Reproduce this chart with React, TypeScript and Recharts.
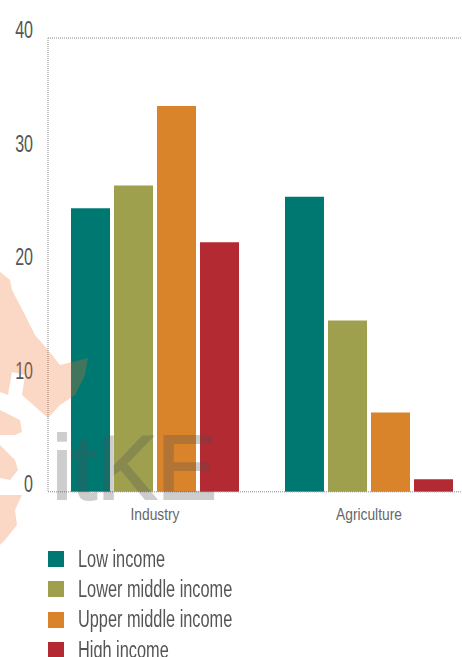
import { BarChart, Bar, XAxis, YAxis, ReferenceLine, Legend } from "recharts";

const categories = ["Industry", "Agriculture"];
const lowIncome = [25, 26];
const lowerMiddleIncome = [27, 15.1];
const upperMiddleIncome = [34, 7];
const highIncome = [22, 1.1];
const yTicks = [0, 10, 20, 30, 40];

const SERIES = [
  { key: "low", name: "Low income", color: "#007872", values: lowIncome },
  { key: "lowerMiddle", name: "Lower middle income", color: "#9ea04e", values: lowerMiddleIncome },
  { key: "upperMiddle", name: "Upper middle income", color: "#d9832a", values: upperMiddleIncome },
  { key: "high", name: "High income", color: "#b42a32", values: highIncome },
];

const chartData = categories.map((name, i) => {
  const row: Record<string, string | number> = { name };
  SERIES.forEach((s) => {
    row[s.key] = s.values[i];
  });
  return row;
});

const FONT = '"Liberation Sans", sans-serif';
const DOTTED = "#8a8a8a";

// no condensed face is installed, so the regular one is squeezed horizontally
const YTick = ({ x, y, payload }: any) => (
  <text
    transform={`translate(${x},${y - 6}) scale(0.67,1)`}
    textAnchor="end"
    dominantBaseline="middle"
    fontFamily={FONT}
    fontSize={24}
    fill="#555"
  >
    {payload.value}
  </text>
);

const XTick = ({ x, y, payload }: any) => (
  <text
    transform={`translate(${x},${y + 16}) scale(0.81,1)`}
    textAnchor="middle"
    dominantBaseline="middle"
    fontFamily={FONT}
    fontSize={17}
    fill="#666"
  >
    {payload.value}
  </text>
);

const LegendList = () => (
  <div>
    {SERIES.map((s) => (
      <div key={s.key} style={{ display: "flex", alignItems: "center", height: 30.3 }}>
        <span style={{ width: 16, height: 16, background: s.color, marginRight: 14, flex: "none" }} />
        <span
          style={{
            fontFamily: FONT,
            fontSize: 23,
            color: "#555",
            whiteSpace: "nowrap",
            display: "inline-block",
            transform: "scaleX(0.71)",
            transformOrigin: "left center",
          }}
        >
          {s.name}
        </span>
      </div>
    ))}
  </div>
);

export default function App() {
  return (
    <div style={{ position: "absolute", left: 0, top: 0, width: 462, height: 657, overflow: "hidden", background: "#fff" }}>
      <BarChart
        width={480}
        height={700}
        data={chartData}
        margin={{ top: 38, right: 4, bottom: 57, left: 0 }}
        barSize={39}
        barGap={4}
        style={{ position: "absolute", left: 0, top: 0 }}
      >
        <XAxis
          dataKey="name"
          tick={<XTick />}
          tickLine={false}
          axisLine={{ stroke: DOTTED, strokeDasharray: "1 1" }}
          height={30}
        />
        <YAxis
          domain={[0, 40]}
          ticks={yTicks}
          width={48}
          tick={<YTick />}
          tickLine={false}
          tickMargin={15}
          tickSize={0}
          axisLine={{ stroke: DOTTED, strokeDasharray: "1 1" }}
        />
        <ReferenceLine y={40} stroke={DOTTED} strokeDasharray="1 1" />
        {SERIES.map((s) => (
          <Bar key={s.key} dataKey={s.key} name={s.name} fill={s.color} isAnimationActive={false} />
        ))}
        <Legend
          content={<LegendList />}
          wrapperStyle={{ position: "absolute", left: 48, top: 544, width: 300, bottom: "auto" }}
        />
      </BarChart>
      {/* watermark laid over the chart */}
      <svg width={100} height={300} style={{ position: "absolute", left: 0, top: 260, pointerEvents: "none" }}>
        <g fill="rgba(240,110,40,0.27)" transform="translate(0,-260)">
          <path d="M0 272 L10 280 L12 290 L25 315 L35 335 L48 350 L60 365 L88 358 L85 375 L75 395 L60 405 L48 418 L22 395 L25 375 L12 372 L8 395 L0 392 Z" />
          <path d="M0 410 L20 420 L22 432 L15 435 L0 435 Z" />
          <path d="M0 445 L15 460 L18 470 L10 480 L0 478 Z" />
          <path d="M0 495 L22 495 L15 510 L17 525 L5 540 L0 545 Z" />
        </g>
      </svg>
      <div
        style={{
          position: "absolute",
          left: 52,
          top: 433,
          fontFamily: FONT,
          fontSize: 90,
          lineHeight: "70px",
          color: "#505050",
          WebkitTextStroke: "2px #505050",
          opacity: 0.28,
          filter: "blur(0.7px)",
          pointerEvents: "none",
        }}
      >
        itKE
      </div>
    </div>
  );
}
